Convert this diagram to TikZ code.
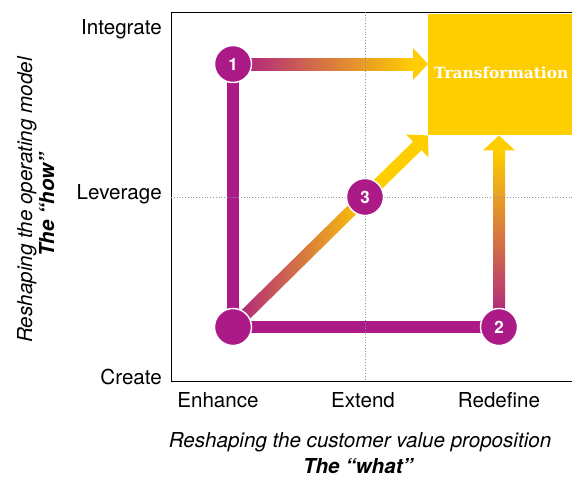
\documentclass[tikz,border=0pt]{standalone}
\usepackage{fontspec}
\setmainfont{TeX Gyre Heros}
\newfontfamily\slabfont{DejaVu Serif}
\usetikzlibrary{calc, positioning}

\definecolor{plum}{RGB}{172,26,135}
\definecolor{sun}{RGB}{254,206,0}
\definecolor{salmon}{RGB}{210,122,112}
\definecolor{gridgray}{RGB}{150,150,150}

\tikzset{
  stepdot/.style={circle, fill=plum, draw=white, line width=1.4pt, minimum size=37pt, inner sep=0pt,
    text=white, font=\bfseries\fontsize{17}{17}\selectfont},
  axislabel/.style={font=\fontsize{20.6}{22}\selectfont, inner sep=0pt},
  plumbar/.style={line width=12pt, plum},
  gridline/.style={gridgray, dotted, line width=0.8pt},
}

% thick bar from #1 to #2, filled or shaded with #3
\newcommand\gradbar[3]{%
  \path[#3] ($(#1)!6pt!90:(#2)$) -- ($(#2)!6pt!-90:(#1)$) -- ($(#2)!6pt!90:(#1)$) -- ($(#1)!6pt!-90:(#2)$) -- cycle;}
% same, with a yellow head at #2
\newcommand\gradarrow[3]{%
  \coordinate (hb) at ($(#2)!15pt!(#1)$);
  \gradbar{#1}{hb}{#3}
  \fill[sun] ($(hb)!16pt!-90:(#1)$) -- (#2) -- ($(hb)!16pt!90:(#1)$) -- cycle;}

\begin{document}
\begin{tikzpicture}[x=1pt, y=-1pt]
    \useasboundingbox (0,0) rectangle (572,477);

    \node[fill=sun, anchor=north west, minimum height=121pt, text width=146pt, inner xsep=6pt,
      text=white, font=\slabfont\bfseries\fontsize{15.4}{18}\selectfont] (trans) at (428,14) {Transformation\vphantom{g}};

    \draw[line width=0.9pt] (572,12) -- (171,12) -- (171,381) -- (572,381);

    % axis labels
    \node[axislabel, anchor=base east] (integrate) at (162,34) {Integrate};
    \node[axislabel, anchor=base east] (leverage) at (162,199) {Leverage};
    \node[axislabel, anchor=base east] (create) at (162,384) {Create};

    \node[axislabel, anchor=base] (enhance) at (218,407) {Enhance};
    \node[axislabel, anchor=base] (extend) at (363,407) {Extend};
    \node[axislabel, anchor=base] (redefine) at (499,407) {Redefine};

    \node[axislabel, anchor=base] (whatsub) at (360,447) {\itshape Reshaping the customer value proposition};
    \node[axislabel, anchor=base] (what) at (358,473) {\bfseries\itshape The ``what''};

    \node[axislabel, anchor=base, rotate=90] (howsub) at (32,200) {\itshape Reshaping the operating model};
    \node[axislabel, anchor=base, rotate=90] (how) at (54,205) {\bfseries\itshape The ``how''};

    % step positions
    \coordinate (c0) at (233,327);
    \coordinate (c1) at (233,64);
    \coordinate (c2) at (499,327);
    \coordinate (c3) at (365,197);

    % connectors
    \draw[plumbar] (c0) -- (c1);
    \draw[plumbar] (c0) -- (c2);

    \coordinate (t1) at ($(trans.north west)!(c1)!(trans.south west)$);
    \coordinate (t2) at ($(trans.south west)!(c2)!(trans.south east)$);
    \gradarrow{c1}{t1}{left color=plum, middle color=salmon, right color=sun}
    \gradarrow{c2}{t2}{bottom color=plum, middle color=salmon, top color=sun}
    \gradbar{c0}{c3}{left color=plum, middle color=salmon, right color=sun}
    \gradarrow{c3}{trans.south west}{fill=sun}

    % grid
    \draw[gridline] (365,12) -- (365,381);
    \draw[gridline] (171,197) -- (572,197);

    % steps
    \node[stepdot] (s0) at (c0) {};
    \node[stepdot] (s1) at (c1) {1};
    \node[stepdot] (s2) at (c2) {2};
    \node[stepdot] (s3) at (c3) {3};
\end{tikzpicture}
\end{document}
